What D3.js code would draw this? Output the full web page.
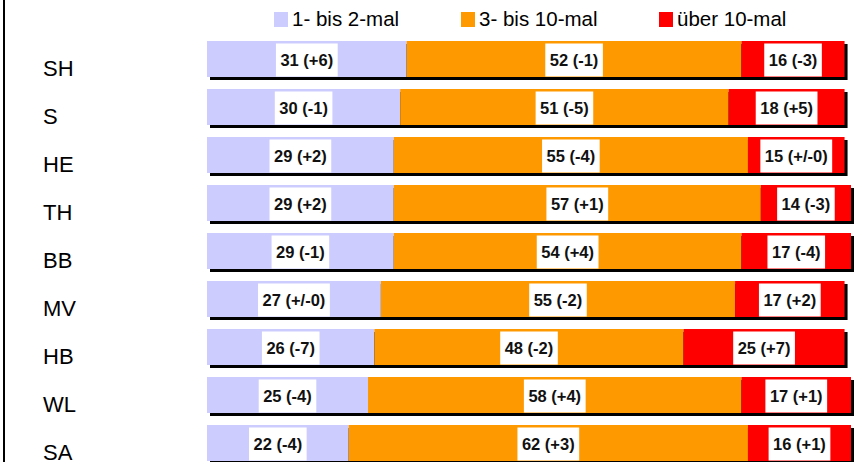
<!DOCTYPE html>
<html><head><meta charset="utf-8">
<script src="https://cdn.jsdelivr.net/npm/d3@7"></script>
<style>body{margin:0;background:#fff;}svg{display:block;}</style>
</head><body>
<svg id="c" width="860" height="462"></svg>
<script>
const categories = ["SH","S","HE","TH","BB","MV","HB","WL","SA"];
const seriesNames = ["1- bis 2-mal","3- bis 10-mal","über 10-mal"];
const seriesColors = ["#ccccff","#ff9900","#ff0000"];
const low  = [31,30,29,29,29,27,26,25,22];
const mid  = [52,51,55,57,54,55,48,58,62];
const high = [16,18,15,14,17,17,25,17,16];
const lowDelta  = ["+6","-1","+2","+2","-1","+/-0","-7","-4","-4"];
const midDelta  = ["-1","-5","-4","+1","+4","-2","-2","+4","+3"];
const highDelta = ["-3","+5","+/-0","-3","-4","+2","+7","+1","+1"];

const svg = d3.select("#c");
const font = "Liberation Sans, Arial, Helvetica, sans-serif";
const x = d3.scaleLinear().domain([0,100]).range([207,851]);
const y = d3.scaleBand().domain(categories).range([41,461]).paddingInner(0.25).paddingOuter(0);
const bw = y.bandwidth();

// left axis line
svg.append("line").attr("x1",4).attr("x2",4).attr("y1",0).attr("y2",462)
  .attr("stroke","#000").attr("stroke-width",2);

const series = [low, mid, high];
const deltas = [lowDelta, midDelta, highDelta];

const rows = categories.map((c,i)=>{
  let acc = 0;
  const segs = series.map((s,k)=>{ const seg={k, x0:acc, x1:acc+s[i], v:s[i], d:deltas[k][i]}; acc+=s[i]; return seg;});
  return {c, segs, total:acc};
});

const g = svg.selectAll("g.row").data(rows).join("g").attr("class","row");
// shadow
g.append("rect").attr("x",x(0)+3).attr("y",d=>y(d.c)+3)
  .attr("width",d=>x(d.total)-x(0)).attr("height",bw).attr("fill","#000");
// segments
g.selectAll("rect.seg").data(d=>d.segs.map(s=>({...s,c:d.c}))).join("rect").attr("class","seg")
  .attr("x",d=>x(d.x0)).attr("y",d=>y(d.c)).attr("width",d=>x(d.x1)-x(d.x0)).attr("height",bw)
  .attr("fill",d=>seriesColors[d.k]);
// labels
const lab = g.selectAll("g.lab").data(d=>d.segs.map(s=>({...s,c:d.c}))).join("g").attr("class","lab");
const boxes = lab.append("rect").attr("fill","#fff");
const texts = lab.append("text")
  .attr("x",d=>(x(d.x0)+x(d.x1))/2).attr("y",d=>y(d.c)+25)
  .attr("text-anchor","middle").attr("font-family",font).attr("font-weight","bold")
  .attr("font-size","16.5px").attr("fill","#111")
  .text(d=>`${d.v} (${d.d})`);
texts.each(function(d,i){
  const w = this.getComputedTextLength();
  d3.select(this.parentNode).select("rect")
    .attr("x",(x(d.x0)+x(d.x1))/2 - w/2 - 4.5).attr("width",w+9)
    .attr("y",y(d.c)+2.5).attr("height",33);
});

// category labels
svg.selectAll("text.cat").data(categories).join("text").attr("class","cat")
  .attr("x",43).attr("y",d=>y(d)+bw-1).attr("font-family",font).attr("font-size","22px").attr("fill","#000")
  .text(d=>d);

// legend
const legX = [274,461,659];
const leg = svg.selectAll("g.leg").data(seriesNames).join("g").attr("class","leg");
leg.append("rect").attr("x",(d,i)=>legX[i]).attr("y",12).attr("width",14).attr("height",15)
  .attr("fill",(d,i)=>seriesColors[i]);
leg.append("text").attr("x",(d,i)=>legX[i]+18).attr("y",26).attr("font-family",font)
  .attr("font-size","20.5px").attr("fill","#000").text(d=>d);
</script>
</body></html>
